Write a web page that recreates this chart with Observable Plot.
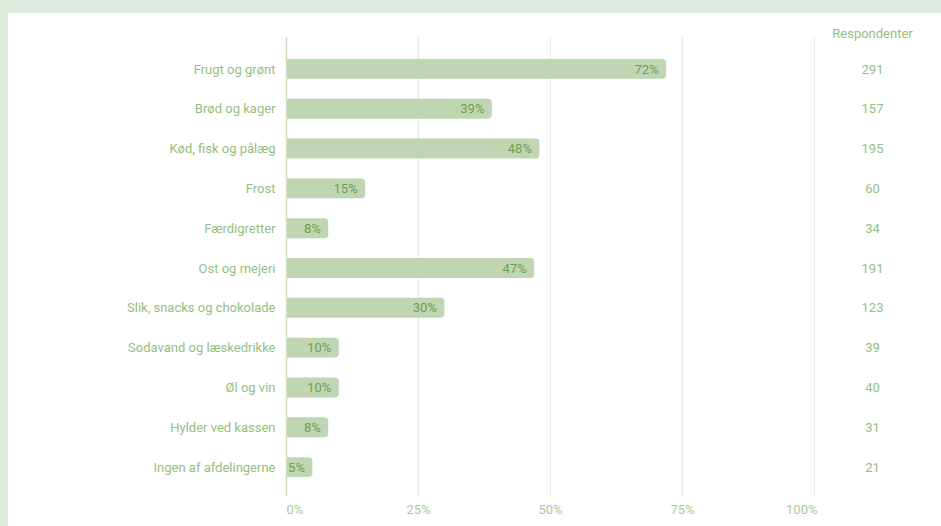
<!DOCTYPE html>
<html><head><meta charset="utf-8">
<script src="https://cdn.jsdelivr.net/npm/d3@7"></script>
<script src="https://cdn.jsdelivr.net/npm/@observablehq/plot@0.6"></script>
<style>
html,body{margin:0;padding:0;background:#dfede0;width:941px;height:526px;overflow:hidden;}
#wrap{position:absolute;left:8px;top:13px;width:933px;height:513px;background:#fff;}
svg{font-family:Roboto,sans-serif;}
</style></head>
<body><div id="wrap"></div>
<script>
const categories = ["Frugt og grønt","Brød og kager","Kød, fisk og pålæg","Frost","Færdigretter","Ost og mejeri","Slik, snacks og chokolade","Sodavand og læskedrikke","Øl og vin","Hylder ved kassen","Ingen af afdelingerne"];
const shares = [0.72,0.39,0.48,0.15,0.08,0.47,0.30,0.10,0.10,0.08,0.05];
const respondents = [291,157,195,60,34,191,123,39,40,31,21];
const ticks = [0,0.25,0.5,0.75,1];
const header = "Respondenter";

const data = categories.map((c,i)=>({cat:c, v:shares[i], n:respondents[i]}));
const fmt = d3.format(".0%");
const labelC = "#93c080";
const tickC = "#a7c996";
const fs = 13;

const chart = Plot.plot({
  width: 933, height: 513,
  marginLeft: 278, marginRight: 127, marginTop: 26, marginBottom: 29,
  style: {fontFamily: "Roboto, sans-serif", fontSize: "13px", background: "#fff"},
  x: {domain: [0,1], axis: null},
  y: {domain: categories, padding: 0.5, round: false, axis: null},
  marks: [
    Plot.ruleX(ticks.slice(1), {stroke: "#e3ecde", strokeWidth: 1.2, insetTop: -2, insetBottom: 1}),
    Plot.barX(data, {x: "v", y: "cat", fill: "#c0d6b2", rx2: 4}),
    Plot.ruleX([0], {stroke: "#cfe0c5", strokeWidth: 1.5, insetTop: -2, insetBottom: 1}),
    Plot.text(data, {x: "v", y: "cat", text: d => fmt(d.v), textAnchor: "end", dx: -8, fill: "#6a9f52", fontSize: fs}),
    Plot.text(data, {x: 0, y: "cat", text: "cat", textAnchor: "end", dx: -11, fill: labelC, fontSize: fs}),
    Plot.text(data, {x: 1, y: "cat", text: d => String(d.n), textAnchor: "middle", dx: 58, fill: labelC, fontSize: fs}),
    Plot.text([header], {x: 1, frameAnchor: "top", lineAnchor: "middle", text: d => d, textAnchor: "middle", dx: 58, dy: -6, fill: labelC, fontSize: fs}),
    Plot.text(ticks.filter(t=>t===0), {x: d=>d, frameAnchor: "bottom", lineAnchor: "middle", text: d=>fmt(d), textAnchor: "start", dy: 12, fill: tickC, fontSize: fs}),
    Plot.text(ticks.filter(t=>t>0 && t<1), {x: d=>d, frameAnchor: "bottom", lineAnchor: "middle", text: d=>fmt(d), textAnchor: "middle", dy: 12, fill: tickC, fontSize: fs}),
    Plot.text(ticks.filter(t=>t===1), {x: d=>d, frameAnchor: "bottom", lineAnchor: "middle", text: d=>fmt(d), textAnchor: "end", dx: 3, dy: 12, fill: tickC, fontSize: fs})
  ]
});
document.getElementById("wrap").appendChild(chart);
</script></body></html>
